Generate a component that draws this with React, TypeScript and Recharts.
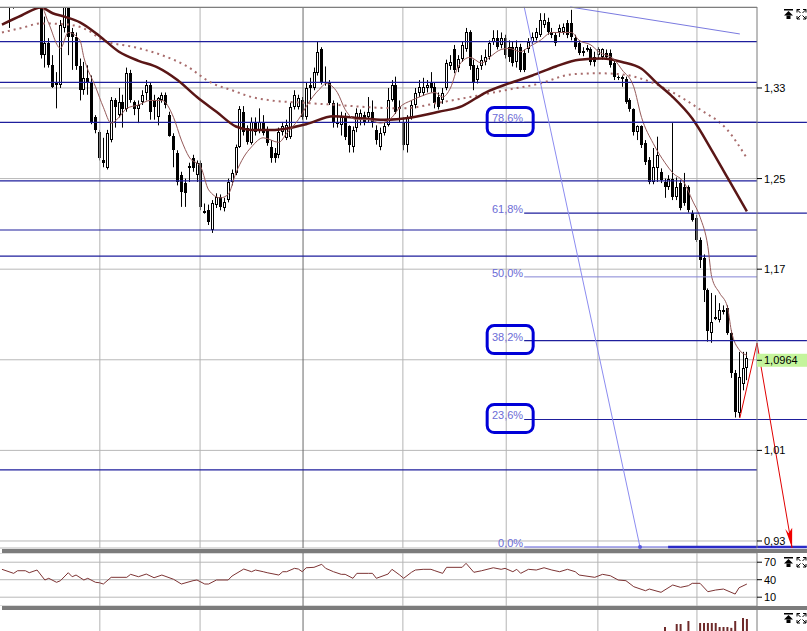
import React from "react";
import { ComposedChart, Bar, Line, XAxis, YAxis, CartesianGrid, ReferenceLine } from "recharts";

// daily candles, oldest first
const opens = [1.421,1.430,1.409,1.425,1.421,1.436,1.427,1.440,1.425,1.430,1.412,1.359,1.370,1.350,1.334,1.333,1.383,1.402,1.379,1.375,1.349,1.328,1.339,1.335,1.304,1.291,1.266,1.259,1.284,1.319,1.306,1.318,1.311,1.343,1.318,1.311,1.318,1.326,1.333,1.319,1.304,1.319,1.324,1.306,1.288,1.273,1.253,1.246,1.261,1.268,1.253,1.264,1.221,1.222,1.205,1.227,1.234,1.224,1.231,1.247,1.255,1.278,1.309,1.295,1.281,1.300,1.293,1.299,1.293,1.278,1.273,1.271,1.291,1.286,1.287,1.313,1.313,1.319,1.304,1.333,1.330,1.343,1.364,1.335,1.334,1.317,1.300,1.297,1.304,1.296,1.278,1.295,1.302,1.306,1.304,1.309,1.293,1.278,1.290,1.297,1.319,1.333,1.313,1.300,1.280,1.304,1.315,1.326,1.326,1.330,1.335,1.331,1.322,1.319,1.330,1.349,1.364,1.348,1.356,1.364,1.379,1.350,1.337,1.349,1.353,1.357,1.371,1.374,1.368,1.374,1.366,1.366,1.353,1.366,1.361,1.364,1.371,1.374,1.377,1.386,1.388,1.379,1.377,1.379,1.379,1.387,1.387,1.374,1.370,1.361,1.364,1.364,1.357,1.359,1.357,1.361,1.361,1.352,1.340,1.340,1.338,1.319,1.311,1.291,1.296,1.281,1.266,1.247,1.259,1.256,1.247,1.243,1.250,1.234,1.246,1.243,1.243,1.220,1.215,1.196,1.180,1.152,1.114,1.127,1.125,1.132,1.136,1.114,1.078,1.043,1.069,1.083];
const highs = [1.443,1.439,1.430,1.430,1.441,1.443,1.447,1.447,1.443,1.434,1.415,1.393,1.374,1.359,1.344,1.390,1.412,1.410,1.383,1.379,1.356,1.353,1.350,1.341,1.306,1.293,1.286,1.293,1.322,1.321,1.330,1.324,1.348,1.346,1.319,1.319,1.328,1.337,1.335,1.324,1.322,1.326,1.326,1.309,1.290,1.275,1.256,1.250,1.264,1.271,1.266,1.266,1.228,1.227,1.231,1.237,1.236,1.233,1.250,1.258,1.280,1.314,1.314,1.297,1.304,1.304,1.312,1.306,1.296,1.284,1.277,1.295,1.300,1.302,1.317,1.328,1.324,1.322,1.335,1.339,1.348,1.371,1.366,1.349,1.337,1.319,1.317,1.309,1.308,1.297,1.296,1.312,1.311,1.309,1.322,1.319,1.297,1.295,1.300,1.330,1.337,1.340,1.319,1.304,1.306,1.319,1.330,1.337,1.339,1.337,1.344,1.335,1.326,1.330,1.355,1.359,1.368,1.359,1.371,1.383,1.381,1.355,1.350,1.359,1.364,1.372,1.381,1.381,1.379,1.377,1.372,1.371,1.372,1.369,1.364,1.374,1.379,1.383,1.396,1.396,1.392,1.383,1.379,1.386,1.387,1.390,1.399,1.377,1.372,1.366,1.368,1.366,1.362,1.366,1.365,1.364,1.364,1.355,1.341,1.341,1.340,1.321,1.312,1.297,1.297,1.284,1.269,1.277,1.287,1.259,1.250,1.253,1.299,1.251,1.249,1.255,1.244,1.222,1.218,1.198,1.183,1.153,1.149,1.147,1.140,1.138,1.138,1.116,1.081,1.097,1.097,1.097];
const lows = [1.417,1.412,1.383,1.400,1.415,1.421,1.424,1.421,1.418,1.406,1.356,1.348,1.348,1.330,1.312,1.330,1.379,1.359,1.346,1.346,1.319,1.324,1.324,1.298,1.290,1.266,1.260,1.258,1.282,1.295,1.304,1.295,1.309,1.317,1.306,1.299,1.315,1.319,1.302,1.302,1.297,1.317,1.312,1.287,1.260,1.244,1.225,1.225,1.247,1.256,1.247,1.222,1.219,1.209,1.202,1.224,1.222,1.221,1.229,1.244,1.253,1.277,1.288,1.280,1.280,1.288,1.290,1.288,1.279,1.264,1.264,1.268,1.288,1.284,1.285,1.311,1.311,1.302,1.302,1.319,1.328,1.341,1.333,1.332,1.315,1.295,1.295,1.288,1.284,1.273,1.273,1.291,1.297,1.297,1.300,1.295,1.280,1.275,1.288,1.296,1.318,1.307,1.300,1.275,1.273,1.302,1.312,1.322,1.323,1.326,1.326,1.312,1.311,1.316,1.328,1.346,1.343,1.344,1.353,1.362,1.346,1.328,1.334,1.346,1.350,1.355,1.368,1.364,1.365,1.356,1.353,1.349,1.348,1.344,1.344,1.361,1.368,1.372,1.375,1.383,1.377,1.374,1.367,1.375,1.377,1.374,1.372,1.364,1.359,1.358,1.362,1.350,1.349,1.356,1.355,1.355,1.348,1.337,1.337,1.331,1.316,1.309,1.288,1.284,1.277,1.262,1.245,1.245,1.247,1.246,1.233,1.240,1.231,1.231,1.222,1.226,1.220,1.212,1.194,1.171,1.141,1.106,1.105,1.125,1.123,1.130,1.112,1.074,1.039,1.039,1.063,1.072];
const closes = [1.434,1.417,1.421,1.415,1.434,1.425,1.441,1.427,1.436,1.412,1.359,1.370,1.350,1.331,1.333,1.386,1.402,1.375,1.375,1.349,1.328,1.339,1.335,1.300,1.293,1.268,1.264,1.290,1.319,1.313,1.318,1.311,1.343,1.319,1.311,1.315,1.324,1.333,1.309,1.313,1.321,1.324,1.315,1.288,1.275,1.247,1.238,1.237,1.259,1.259,1.264,1.225,1.220,1.212,1.228,1.234,1.225,1.229,1.247,1.255,1.278,1.311,1.291,1.282,1.300,1.291,1.300,1.290,1.281,1.268,1.268,1.291,1.296,1.297,1.313,1.324,1.321,1.304,1.330,1.330,1.344,1.362,1.334,1.334,1.317,1.299,1.298,1.304,1.287,1.280,1.293,1.308,1.308,1.300,1.309,1.300,1.284,1.290,1.296,1.319,1.333,1.309,1.311,1.280,1.304,1.315,1.326,1.331,1.331,1.333,1.330,1.317,1.313,1.326,1.352,1.353,1.346,1.356,1.368,1.379,1.349,1.335,1.348,1.355,1.357,1.370,1.374,1.366,1.374,1.359,1.357,1.352,1.366,1.346,1.346,1.371,1.375,1.379,1.390,1.390,1.379,1.377,1.370,1.383,1.384,1.377,1.375,1.366,1.361,1.363,1.365,1.353,1.353,1.364,1.364,1.357,1.350,1.340,1.339,1.338,1.318,1.311,1.291,1.296,1.280,1.265,1.247,1.260,1.271,1.249,1.243,1.250,1.234,1.243,1.224,1.228,1.222,1.213,1.196,1.178,1.152,1.115,1.123,1.128,1.134,1.134,1.114,1.078,1.044,1.075,1.083,1.092];

// moving averages, read at [candle index, value]
const maFast = [[0,1.425],[9,1.412],[12,1.387],[15,1.365],[17,1.379],[20,1.372],[21,1.357],[24,1.331],[26,1.313],[28,1.299],[30,1.304],[32,1.312],[35,1.315],[38,1.319],[41,1.319],[44,1.304],[46,1.284],[48,1.269],[51,1.260],[53,1.240],[56,1.233],[58,1.236],[60,1.255],[62,1.269],[64,1.278],[67,1.286],[71,1.282],[73,1.290],[76,1.302],[79,1.319],[82,1.331],[83,1.334],[86,1.326],[88,1.311],[91,1.302],[94,1.302],[97,1.299],[100,1.304],[102,1.313],[105,1.319],[107,1.322],[111,1.326],[113,1.322],[115,1.330],[117,1.349],[120,1.357],[123,1.352],[125,1.357],[128,1.364],[130,1.365],[133,1.362],[135,1.366],[138,1.372],[141,1.379],[143,1.379],[146,1.379],[148,1.372],[151,1.368],[153,1.362],[157,1.355],[159,1.346],[162,1.331],[164,1.304],[167,1.281],[170,1.264],[172,1.255],[175,1.246],[177,1.231],[179,1.216],[181,1.190],[182,1.163],[184,1.149],[186,1.137],[187,1.116],[189,1.099],[191,1.094]];
const maMid = [[0,1.386],[5,1.394],[10,1.401],[13,1.396],[16,1.393],[20,1.388],[25,1.376],[30,1.362],[35,1.354],[40,1.348],[45,1.337],[50,1.322],[55,1.309],[60,1.296],[64,1.293],[70,1.293],[78,1.298],[85,1.305],[90,1.304],[98,1.302],[105,1.304],[112,1.309],[118,1.314],[124,1.326],[130,1.334],[136,1.341],[142,1.349],[148,1.355],[154,1.356],[159,1.353],[164,1.347],[168,1.334],[172,1.322],[177,1.303],[182,1.275],[186,1.251],[191,1.221]];
const maSlow = [[0,1.379],[5,1.383],[10,1.387],[17,1.386],[22,1.381],[26,1.372],[34,1.366],[41,1.359],[47,1.350],[54,1.334],[59,1.328],[64,1.322],[69,1.319],[77,1.317],[86,1.315],[94,1.313],[103,1.312],[112,1.317],[120,1.322],[129,1.328],[138,1.334],[146,1.342],[153,1.343],[159,1.342],[165,1.337],[172,1.326],[179,1.311],[186,1.293],[191,1.268]];

const rsiPts = [[0,57.8],[3,50.9],[4,55.4],[6,55.4],[7,52.0],[9,56.6],[11,39.5],[12,42.4],[14,35.5],[15,38.3],[17,52.0],[18,45.1],[19,48.0],[21,39.5],[22,42.4],[24,35.5],[25,34.8],[26,32.6],[28,44.1],[32,44.1],[33,49.2],[35,45.1],[37,49.7],[39,43.4],[41,48.0],[44,40.7],[46,32.6],[49,38.3],[50,39.5],[52,32.6],[53,32.6],[55,39.5],[58,39.5],[59,46.3],[62,58.3],[64,53.7],[65,56.6],[67,53.7],[68,52.0],[71,48.0],[72,53.7],[73,53.7],[75,59.5],[76,58.3],[77,53.7],[78,60.5],[80,61.2],[82,66.4],[83,59.5],[85,53.7],[87,49.2],[88,49.2],[90,42.4],[91,50.9],[94,50.9],[95,50.9],[96,42.4],[99,49.7],[100,57.8],[102,48.0],[103,42.4],[105,52.7],[106,56.6],[108,57.8],[110,57.8],[111,55.4],[113,50.9],[114,61.2],[118,61.2],[119,68.1],[121,52.7],[123,55.4],[126,60.5],[128,57.8],[129,59.5],[131,53.7],[132,57.8],[133,50.9],[135,57.8],[137,56.6],[139,60.5],[141,56.6],[143,53.7],[145,57.8],[147,53.7],[148,48.0],[152,44.1],[154,49.2],[156,46.8],[158,39.5],[160,38.3],[162,28.0],[165,21.1],[166,24.0],[169,18.4],[172,30.9],[174,26.9],[176,29.7],[177,33.8],[179,33.8],[181,19.4],[183,22.3],[185,24.0],[188,15.4],[189,26.2],[191,32.6]];
const volPts = [[170,67.6],[173,73.3],[174,73.3],[176,79],[179,75.2],[180,75.2],[181,75.2],[182,75.2],[183,75.2],[184,67.6],[185,67.6],[186,67.6],[187,66],[188,79],[190,84.8],[191,82.9]];

const priceTicks = [0.93, 1.01, 1.09, 1.17, 1.25, 1.33];
const lastQuote = "1,0964";
const lastQuoteTick = 1.09;
const rsiTicks = [10, 40, 70];
const monthStarts = [25.1, 50.8, 102.8, 129.3, 152.8, 178.2];
const yearStart = 77.2;
const levelLines = [1.3709, 1.335, 1.2479, 1.2046, 1.1816, 0.9927];
const fibLow = 0.9247;
const fibHigh = 1.4017;
const fibLevels = [0.786, 0.618, 0.5, 0.382, 0.236];
const fibLabels = ["78,6%", "61,8%", "50,0%", "38,2%", "23,6%"];
const fibBoxed = [true, false, false, true, true];
const fibStart = 133.9;
const zeroThickFrom = 170.8;
const rightEdge = 206.4;
const trendDown = [{ x: 133.9, y: 1.4017 }, { x: 163.6, y: 0.9247 }];
const trendTop = [{ x: 145.7, y: 1.4015 }, { x: 189.2, y: 1.3777 }];
const forecast = [{ x: 189.2, y: 1.0386 }, { x: 193.6, y: 1.1048 }, { x: 202.6, y: 0.9238 }];

const X_DOMAIN = [-0.5, 193.6];
const Y_DOMAIN = [0.9238, 1.4015];
const FONT = "'Liberation Sans', Arial, sans-serif";

const pick = (pts: number[][]) => new Map(pts.map(([k, v]) => [k, v]));
const fastM = pick(maFast), midM = pick(maMid), slowM = pick(maSlow), rsiM = pick(rsiPts), volM = pick(volPts);

const rows = closes.map((c, i) => ({
  i, o: opens[i], h: highs[i], l: lows[i], c,
  range: [lows[i], highs[i]],
  fast: fastM.get(i) ?? null, mid: midM.get(i) ?? null, slow: slowM.get(i) ?? null,
  rsi: rsiM.get(i) ?? null, vol: volM.get(i) ?? null,
}));

const fmt = (v: number) => v.toFixed(2).replace(".", ",");

const Candle = (props: any) => {
  const { x, y, width, height, payload } = props;
  if (x == null || y == null) return null;
  const top = Math.min(y, y + height);
  const hgt = Math.abs(height);
  const { o, h, l, c } = payload;
  const toY = (v: number) => top + ((h - v) / (h - l)) * hgt;
  const cx = Math.round(x + width / 2);
  const yt = Math.round(toY(Math.max(o, c)));
  const yb = Math.round(toY(Math.min(o, c)));
  return (
    <g>
      <line x1={cx + 0.5} x2={cx + 0.5} y1={top} y2={top + hgt} stroke="#000" strokeWidth={1} />
      {c >= o ? (
        <rect x={cx - 0.5} y={yt + 0.5} width={2} height={Math.max(yb - yt - 1, 1)} fill="#fff" stroke="#000" strokeWidth={1} />
      ) : (
        <rect x={cx - 1} y={yt} width={3} height={Math.max(yb - yt, 1)} fill="#000" />
      )}
    </g>
  );
};

const PriceTick = (props: any) => {
  const { x, y, payload } = props;
  if (payload.value === lastQuoteTick) {
    return (
      <g>
        <rect x={x - 7} y={y - 6} width={50} height={13} fill="#c4f49c" />
        <line x1={x - 7} x2={x - 2} y1={y + 0.5} y2={y + 0.5} stroke="#000" />
        <text x={x} y={y} dy={4} fontSize={11} fontFamily={FONT} fill="#000" textAnchor="start">{lastQuote}</text>
      </g>
    );
  }
  return <text x={x} y={y} dy={4} fontSize={11} fontFamily={FONT} fill="#000" textAnchor="start">{fmt(payload.value)}</text>;
};

const RsiTick = (props: any) => {
  const { x, y, payload } = props;
  return <text x={x} y={y} dy={4} fontSize={11} fontFamily={FONT} fill="#000" textAnchor="start">{payload.value}</text>;
};

const fibShape = (label: string, boxed: boolean, color: string, w: number) => (p: any) => (
  <g>
    <line x1={p.x1} y1={p.y1} x2={p.x2} y2={p.y2} stroke={color} strokeWidth={w} />
    <text x={p.x1 - 1} y={p.y1} textAnchor="end" fontSize={11} fontFamily={FONT} fill="#6b6bd6">{label}</text>
    {boxed && <rect x={p.x1 - 37} y={p.y1 - 15} width={46} height={28} rx={7} fill="none" stroke="#0000d8" strokeWidth={3} />}
  </g>
);

const dotEnd = (p: any) => (
  <g>
    <line x1={p.x1} y1={p.y1} x2={p.x2} y2={p.y2} stroke="#8c8cf0" strokeWidth={1} />
    <circle cx={p.x2} cy={p.y2} r={2} fill="#5a5ae0" />
  </g>
);

const arrowShape = (p: any) => {
  const a = Math.atan2(p.y2 - p.y1, p.x2 - p.x1);
  const bx = p.x2 - 20 * Math.cos(a), by = p.y2 - 20 * Math.sin(a);
  const nx = -Math.sin(a) * 3.5, ny = Math.cos(a) * 3.5;
  return (
    <g>
      <line x1={p.x1} y1={p.y1} x2={p.x2} y2={p.y2} stroke="#e00000" strokeWidth={1} />
      <polygon points={`${p.x2},${p.y2} ${bx + nx},${by + ny} ${bx},${by + 5} ${bx - nx},${by - ny}`} fill="#f00000" />
    </g>
  );
};

const vGrid = (keyPrefix: string) => [
  ...monthStarts.map((m) => <ReferenceLine key={keyPrefix + m} x={m} stroke="#b4b4b4" strokeWidth={1} />),
  <ReferenceLine key={keyPrefix + "y"} x={yearStart} stroke="#6a6a6a" strokeWidth={1} />,
];

const Icons = ({ top }: { top: number }) => (
  <g transform={`translate(0, ${top})`}>
    <rect x={784} y={0} width={9} height={1.5} fill="#000" />
    <polygon points="788.5,2 784,6.5 793,6.5" fill="#000" />
    <rect x={786.5} y={6.5} width={4} height={3.5} fill="#000" />
    <g stroke="#000" strokeWidth={1} fill="none">
      <path d="M797 0.5 h3 M797 0.5 v3 M797 0.5 l3.5 3.5" />
      <path d="M806 0.5 h-3 M806 0.5 v3 M806 0.5 l-3.5 3.5" />
      <path d="M797 10 h3 M797 10 v-3 M797 10 l3.5 -3.5" />
      <path d="M806 10 h-3 M806 10 v-3 M806 10 l-3.5 -3.5" />
    </g>
  </g>
);

export default function App() {
  return (
    <div style={{ position: "absolute", left: 0, top: 0, width: 807, height: 631, background: "#fff", overflow: "hidden", fontFamily: FONT }}>
      <div style={{ position: "absolute", left: 0, top: 0 }}>
        <ComposedChart width={807} height={549} data={rows} margin={{ top: 7, right: 0, bottom: 1, left: 0 }}>
          <CartesianGrid vertical={false} stroke="#b8b8b8" />
          <XAxis dataKey="i" type="number" domain={X_DOMAIN} hide allowDataOverflow />
          <YAxis orientation="right" width={50} domain={Y_DOMAIN} allowDataOverflow ticks={priceTicks} interval={0}
            tick={<PriceTick />} tickSize={5} tickLine={{ stroke: "#000" }} axisLine={{ stroke: "#7a7a7a" }} />
          {vGrid("m")}
          {levelLines.map((v) => <ReferenceLine key={"l" + v} y={v} stroke="#1e1e9c" strokeWidth={1.2} />)}
          <ReferenceLine y={fibLow + fibLevels[0] * (fibHigh - fibLow)} stroke="#1e1e9c" strokeWidth={1.2} />
          <Bar dataKey="range" barSize={3} shape={<Candle />} isAnimationActive={false} />
          <Line dataKey="slow" type="monotone" connectNulls dot={false} stroke="#a86c6c" strokeWidth={2} strokeDasharray="2 4" isAnimationActive={false} />
          <Line dataKey="mid" type="monotone" connectNulls dot={false} stroke="#5a1616" strokeWidth={2.5} isAnimationActive={false} />
          <Line dataKey="fast" type="monotone" connectNulls dot={false} stroke="#955a5a" strokeWidth={1} isAnimationActive={false} />
          {fibLevels.map((lv, k) => {
            const price = fibLow + lv * (fibHigh - fibLow);
            const light = lv === 0.5;
            return (
              <ReferenceLine key={"f" + lv} ifOverflow="visible"
                segment={[{ x: fibStart, y: price }, { x: light ? X_DOMAIN[1] : rightEdge, y: price }]}
                shape={fibShape(fibLabels[k], fibBoxed[k], light ? "#8484d4" : "#1e1e9c", light ? 1 : 1.2)} />
            );
          })}
          <ReferenceLine ifOverflow="visible" segment={[{ x: fibStart, y: fibLow }, { x: zeroThickFrom, y: fibLow }]}
            shape={fibShape("0,0%", false, "#6464e0", 1)} />
          <ReferenceLine ifOverflow="visible" segment={[{ x: zeroThickFrom, y: fibLow }, { x: rightEdge, y: fibLow }]}
            stroke="#2a2ac8" strokeWidth={2.5} />
          <ReferenceLine ifOverflow="visible" segment={trendDown} shape={dotEnd} />
          <ReferenceLine ifOverflow="visible" segment={trendTop} stroke="#7a7ae0" strokeWidth={1} />
          <ReferenceLine ifOverflow="visible" segment={[forecast[0], forecast[1]]} stroke="#e00000" strokeWidth={1} />
          <ReferenceLine ifOverflow="visible" segment={[forecast[1], forecast[2]]} shape={arrowShape} />
        </ComposedChart>
      </div>
      <div style={{ position: "absolute", left: 0, top: 553 }}>
        <ComposedChart width={807} height={53} data={rows} margin={{ top: 0, right: 0, bottom: 0, left: 0 }}>
          <CartesianGrid vertical={false} stroke="#b8b8b8" />
          <XAxis dataKey="i" type="number" domain={X_DOMAIN} hide allowDataOverflow />
          <YAxis orientation="right" width={50} domain={[-5.1, 85.8]} allowDataOverflow ticks={rsiTicks} interval={0}
            tick={<RsiTick />} tickSize={5} tickLine={{ stroke: "#000" }} axisLine={{ stroke: "#7a7a7a" }} />
          {vGrid("r")}
          <Line dataKey="rsi" type="linear" connectNulls dot={false} stroke="#7d3434" strokeWidth={1} isAnimationActive={false} />
        </ComposedChart>
      </div>
      <div style={{ position: "absolute", left: 0, top: 610 }}>
        <ComposedChart width={807} height={21} data={rows} margin={{ top: 0, right: 0, bottom: 0, left: 0 }}>
          <XAxis dataKey="i" type="number" domain={X_DOMAIN} hide allowDataOverflow />
          <YAxis orientation="right" width={50} domain={[60, 100]} allowDataOverflow tick={false} tickLine={false} axisLine={{ stroke: "#7a7a7a" }} />
          {vGrid("v")}
          <Bar dataKey="vol" barSize={2} fill="#6e2a2a" isAnimationActive={false} />
        </ComposedChart>
      </div>
      <svg width={807} height={631} style={{ position: "absolute", left: 0, top: 0, pointerEvents: "none" }}>
        <rect x={0} y={7} width={757} height={1} fill="#7e7e7e" />
        <rect x={2} y={549} width={805} height={4} fill="#7c7c7c" />
        <rect x={2} y={606} width={805} height={4} fill="#7c7c7c" />
        <Icons top={9} />
        <Icons top={557} />
        <Icons top={613} />
      </svg>
    </div>
  );
}
